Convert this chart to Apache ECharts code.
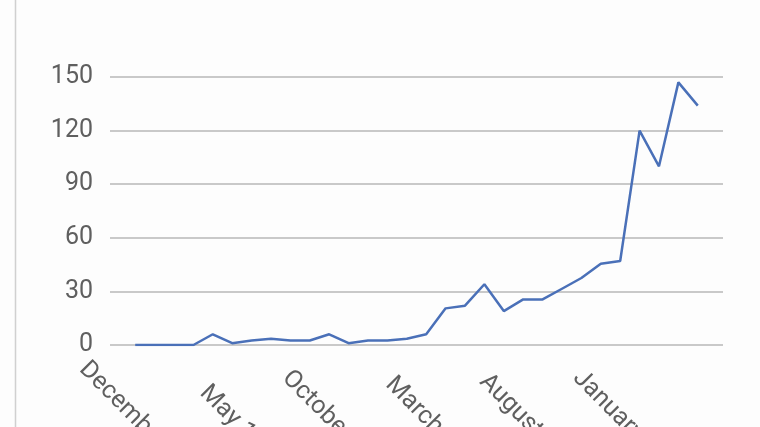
<!DOCTYPE html>
<html>
<head>
<meta charset="utf-8">
<script src="https://cdn.jsdelivr.net/npm/echarts@6/dist/echarts.min.js"></script>
<style>
  html, body { margin: 0; padding: 0; background: #fdfdfd; }
  #chart { width: 760px; height: 427px; }
</style>
</head>
<body>
<div id="chart"></div>
<script>
// Monthly categories (Dec 2016 .. May 2019)
const categories = [
  'December 16', 'January 17', 'February 17', 'March 17', 'April 17', 'May 17',
  'June 17', 'July 17', 'August 17', 'September 17', 'October 17', 'November 17',
  'December 17', 'January 18', 'February 18', 'March 18', 'April 18', 'May 18',
  'June 18', 'July 18', 'August 18', 'September 18', 'October 18', 'November 18',
  'December 18', 'January 19', 'February 19', 'March 19', 'April 19', 'May 19'
];
const values = [
  0, 0, 0, 0, 6, 1, 2.5, 3.5, 2.5, 2.5,
  6, 1, 2.5, 2.5, 3.5, 6, 20.5, 22, 34, 19,
  25.5, 25.5, 31.5, 37.5, 45.5, 47, 120, 100, 147, 134
];
const labelIndices = [0, 5, 10, 15, 20, 25];
const yTicks = [0, 30, 60, 90, 120, 150];

const seriesData = values.map((v, i) => [i, v]);

const chart = echarts.init(document.getElementById('chart'));
chart.setOption({
  backgroundColor: '#fdfdfd',
  animation: false,
  graphic: [{
    type: 'line',
    shape: { x1: 15.5, y1: 0, x2: 15.5, y2: 427 },
    style: { stroke: '#d0d0d0', lineWidth: 1.5 }
  }],
  grid: {
    left: 110, right: 37, top: 77, bottom: 82,
    containLabel: false,
    outerBoundsMode: 'none'
  },
  xAxis: {
    type: 'value',
    min: -1.3,
    max: 30.3,
    axisLine: { show: false },
    axisTick: { show: false },
    splitLine: { show: false },
    axisLabel: {
      customValues: labelIndices,
      formatter: v => categories[Math.round(v)] || '',
      rotate: -45,
      align: 'center',
      verticalAlign: 'middle',
      margin: 73,
      fontFamily: 'Roboto',
      fontSize: 25,
      color: '#5f5f5f'
    }
  },
  yAxis: {
    type: 'value',
    min: yTicks[0],
    max: yTicks[yTicks.length - 1],
    interval: 30,
    axisLine: { show: false },
    axisTick: { show: false },
    axisLabel: {
      margin: 17,
      fontFamily: 'Roboto',
      fontSize: 25,
      color: '#5f5f5f'
    },
    splitLine: { lineStyle: { color: '#c9c9c9', width: 2 } }
  },
  series: [{
    type: 'line',
    data: seriesData,
    showSymbol: false,
    symbol: 'none',
    lineStyle: { color: '#4a70b8', width: 2.5 },
    itemStyle: { color: '#4a70b8' }
  }]
});
</script>
</body>
</html>
